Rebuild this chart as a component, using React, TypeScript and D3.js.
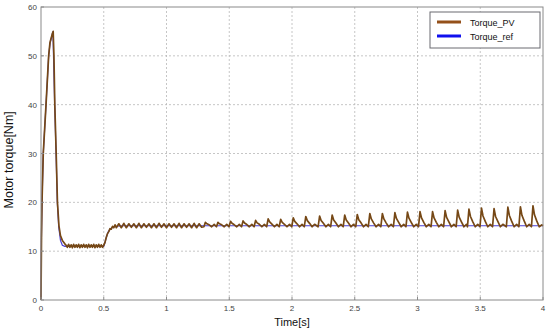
import React from 'react';
import * as d3 from 'd3';

// reference torque [time s, torque Nm]
const torqueRef: [number, number][] = [
  [0, 0], [0.003, 12], [0.007, 19], [0.018, 30], [0.04, 40], [0.061, 50], [0.072, 52.5],
  [0.095, 55], [0.109, 40], [0.12, 30], [0.13, 20], [0.141, 15], [0.155, 12.2],
  [0.17, 11.2], [0.19, 11], [0.5, 11], [0.51, 11.8], [0.52, 12.8], [0.535, 13.9],
  [0.55, 14.5], [0.57, 14.9], [0.6, 15.1], [0.65, 15.2], [4, 15.2],
];

// measured torque [time s, torque Nm]
const torquePV: [number, number][] = [
  [0, 0], [0.004, 13], [0.008, 20], [0.018, 30], [0.04, 40], [0.061, 50], [0.072, 52.8],
  [0.09, 54.5], [0.097, 55], [0.103, 50], [0.11, 40], [0.121, 30], [0.131, 20],
  [0.143, 15.2], [0.155, 13.2], [0.17, 12.2], [0.19, 11.5], [0.2, 11.2],
  [0.21, 10.8], [0.22, 11.4], [0.23, 10.8], [0.24, 11.3], [0.25, 10.7], [0.26, 11.4],
  [0.27, 10.8], [0.28, 11.3], [0.29, 10.8], [0.3, 11.4], [0.31, 10.7], [0.32, 11.3],
  [0.33, 10.8], [0.34, 11.4], [0.35, 10.8], [0.36, 11.3], [0.37, 10.7], [0.38, 11.4],
  [0.39, 10.8], [0.4, 11.3], [0.41, 10.8], [0.42, 11.4], [0.43, 10.7], [0.44, 11.3],
  [0.45, 10.8], [0.46, 11.4], [0.47, 10.8], [0.48, 11.3], [0.49, 10.8], [0.5, 11.2],
  [0.51, 11.8], [0.52, 12.8], [0.53, 13.6], [0.54, 14.0], [0.55, 14.6], [0.56, 14.5],
  [0.57, 15.1], [0.58, 14.8], [0.59, 15.4],
  [0.6, 14.8], [0.62, 15.6], [0.64, 14.8], [0.66, 15.7], [0.68, 14.8], [0.7, 15.6],
  [0.72, 14.9], [0.74, 15.6], [0.76, 14.8], [0.78, 15.7], [0.8, 14.8], [0.82, 15.6],
  [0.84, 14.9], [0.86, 15.6], [0.88, 14.8], [0.9, 15.6], [0.92, 14.8], [0.94, 15.7],
  [0.96, 14.9], [0.98, 15.6], [1.0, 14.8], [1.02, 15.6], [1.04, 14.9], [1.06, 15.6],
  [1.08, 14.8], [1.1, 15.7], [1.12, 14.8], [1.14, 15.6], [1.16, 14.9], [1.18, 15.6],
  [1.2, 14.8], [1.22, 15.7], [1.24, 14.8], [1.26, 15.6], [1.28, 14.9],
  [1.298, 15.0], [1.31, 15.9], [1.322, 15.6], [1.34, 15.4], [1.36, 15.0], [1.38, 15.5],
  [1.398, 15.0], [1.41, 15.9], [1.422, 15.6], [1.44, 15.4], [1.46, 15.0], [1.48, 15.5],
  [1.498, 15.0], [1.51, 16.1], [1.522, 15.7], [1.54, 15.4], [1.56, 15.0], [1.58, 15.5],
  [1.598, 15.0], [1.61, 16.2], [1.622, 15.75], [1.64, 15.45], [1.66, 15.0], [1.68, 15.5],
  [1.698, 15.0], [1.71, 16.3], [1.722, 15.8], [1.74, 15.5], [1.76, 15.0], [1.78, 15.5],
  [1.798, 15.0], [1.81, 16.6], [1.822, 16.0], [1.84, 15.55], [1.86, 15.0], [1.88, 15.5],
  [1.898, 15.0], [1.91, 16.5], [1.922, 15.9], [1.94, 15.5], [1.96, 15.0], [1.98, 15.5],
  [1.998, 15.0], [2.01, 16.8], [2.022, 16.1], [2.04, 15.6], [2.06, 15.0], [2.08, 15.5],
  [2.098, 15.0], [2.11, 17.1], [2.122, 16.25], [2.14, 15.7], [2.16, 15.0], [2.18, 15.5],
  [2.208, 15.0], [2.22, 17.2], [2.232, 16.3], [2.25, 15.7], [2.27, 15.0], [2.29, 15.5],
  [2.308, 15.0], [2.32, 17.4], [2.332, 16.4], [2.35, 15.75], [2.37, 15.0], [2.39, 15.5],
  [2.408, 15.0], [2.42, 17.4], [2.432, 16.4], [2.45, 15.75], [2.47, 15.0], [2.49, 15.5],
  [2.508, 15.0], [2.52, 17.5], [2.532, 16.45], [2.55, 15.8], [2.57, 15.0], [2.59, 15.5],
  [2.608, 15.0], [2.62, 17.7], [2.632, 16.6], [2.65, 15.8], [2.67, 15.0], [2.69, 15.5],
  [2.708, 15.0], [2.72, 17.7], [2.732, 16.6], [2.75, 15.8], [2.77, 15.0], [2.79, 15.5],
  [2.808, 15.0], [2.82, 17.9], [2.832, 16.7], [2.85, 15.9], [2.87, 15.0], [2.89, 15.5],
  [2.908, 15.0], [2.92, 18.0], [2.932, 16.75], [2.95, 15.9], [2.97, 15.0], [2.99, 15.5],
  [3.008, 15.0], [3.02, 18.1], [3.032, 16.8], [3.05, 15.9], [3.07, 15.0], [3.09, 15.5],
  [3.108, 15.0], [3.12, 18.1], [3.132, 16.8], [3.15, 15.9], [3.17, 15.0], [3.19, 15.5],
  [3.208, 15.0], [3.22, 18.3], [3.232, 16.9], [3.25, 16.0], [3.27, 15.0], [3.29, 15.5],
  [3.308, 15.0], [3.32, 18.4], [3.332, 16.95], [3.35, 16.0], [3.37, 15.0], [3.39, 15.5],
  [3.398, 15.0], [3.41, 18.6], [3.422, 17.1], [3.44, 16.05], [3.46, 15.0], [3.48, 15.5],
  [3.498, 15.0], [3.51, 18.8], [3.522, 17.2], [3.54, 16.1], [3.56, 15.0], [3.58, 15.5],
  [3.598, 15.0], [3.61, 18.7], [3.622, 17.1], [3.64, 16.1], [3.66, 15.0], [3.68, 15.5],
  [3.708, 15.0], [3.72, 19.0], [3.732, 17.3], [3.75, 16.15], [3.77, 15.0], [3.79, 15.5],
  [3.808, 15.0], [3.82, 19.1], [3.832, 17.35], [3.85, 16.2], [3.87, 15.0], [3.89, 15.5],
  [3.908, 15.0], [3.92, 19.3], [3.932, 17.45], [3.95, 16.2], [3.97, 15.0], [3.99, 15.4],
  [4.0, 15.2],
];

const xTicks = [0, 0.5, 1, 1.5, 2, 2.5, 3, 3.5, 4];
const yTicks = [0, 10, 20, 30, 40, 50, 60];
const seriesNames = ['Torque_PV', 'Torque_ref'];
const seriesColors = ['#94501a', '#1010ee'];

const width = 550;
const height = 332;
const margin = { top: 7, right: 7, bottom: 32, left: 41 };
const font = '"Liberation Sans", Arial, sans-serif';

const App = () => {
  const innerW = width - margin.left - margin.right;
  const innerH = height - margin.top - margin.bottom;

  const xScale = d3.scaleLinear().domain([0, 4]).range([0, innerW]);
  const yScale = d3.scaleLinear().domain([0, 60]).range([innerH, 0]);

  const line = d3.line<[number, number]>()
    .x(d => xScale(d[0]))
    .y(d => yScale(d[1]));

  return (
    <svg width={width} height={height} style={{ position: 'absolute', left: 0, top: 0, background: '#fff' }}>
      <g transform={`translate(${margin.left},${margin.top})`}>
        {/* grid */}
        {xTicks.slice(1, -1).map(t => (
          <line key={'gx' + t} x1={xScale(t)} x2={xScale(t)} y1={0} y2={innerH}
            stroke='#b8b8b8' strokeWidth={0.8} strokeDasharray='2 2' />
        ))}
        {yTicks.slice(1, -1).map(t => (
          <line key={'gy' + t} x1={0} x2={innerW} y1={yScale(t)} y2={yScale(t)}
            stroke='#b8b8b8' strokeWidth={0.8} strokeDasharray='2 2' />
        ))}

        {/* series */}
        <path d={line(torqueRef) || ''} fill='none' stroke='#4a3fd6' strokeWidth={1.2} />
        <path d={line(torquePV) || ''} fill='none' stroke='#764816' strokeWidth={1.7} strokeLinejoin='round' />

        {/* frame */}
        <rect x={0} y={0} width={innerW} height={innerH} fill='none' stroke='#8a8a8a' strokeWidth={1} />

        {/* ticks */}
        {xTicks.map(t => (
          <g key={'xt' + t}>
            <line x1={xScale(t)} x2={xScale(t)} y1={innerH} y2={innerH - 3} stroke='#8a8a8a' />
            <text x={xScale(t)} y={innerH + 11} textAnchor='middle' fontSize={8}
              fontFamily={font} fill='#444'>{t}</text>
          </g>
        ))}
        {yTicks.map(t => (
          <g key={'yt' + t}>
            <line x1={0} x2={3} y1={yScale(t)} y2={yScale(t)} stroke='#8a8a8a' />
            <text x={-4} y={yScale(t) + 3} textAnchor='end' fontSize={8}
              fontFamily={font} fill='#444'>{t}</text>
          </g>
        ))}

        {/* axis labels */}
        <text x={innerW / 2} y={innerH + 26} textAnchor='middle' fontSize={11}
          fontFamily={font} fill='#111'>Time[s]</text>
        <text transform={`translate(${-28},${yScale(28.7)}) rotate(-90)`} textAnchor='middle'
          fontSize={12.5} fontFamily={font} fill='#111'>Motor torque[Nm]</text>

        {/* legend */}
        <g transform={`translate(${innerW - 113},${5})`}>
          <rect x={0} y={0} width={110} height={36} fill='#fff' stroke='#6a6a70' strokeWidth={1} />
          {seriesNames.map((name, i) => (
            <g key={name} transform={`translate(0,${10 + i * 14})`}>
              <line x1={7} x2={31} y1={0} y2={0} stroke={seriesColors[i]} strokeWidth={3} />
              <text x={40} y={3.5} fontSize={9} fontFamily={font} fill='#111'>{name}</text>
            </g>
          ))}
        </g>
      </g>
    </svg>
  );
};

export default App;
